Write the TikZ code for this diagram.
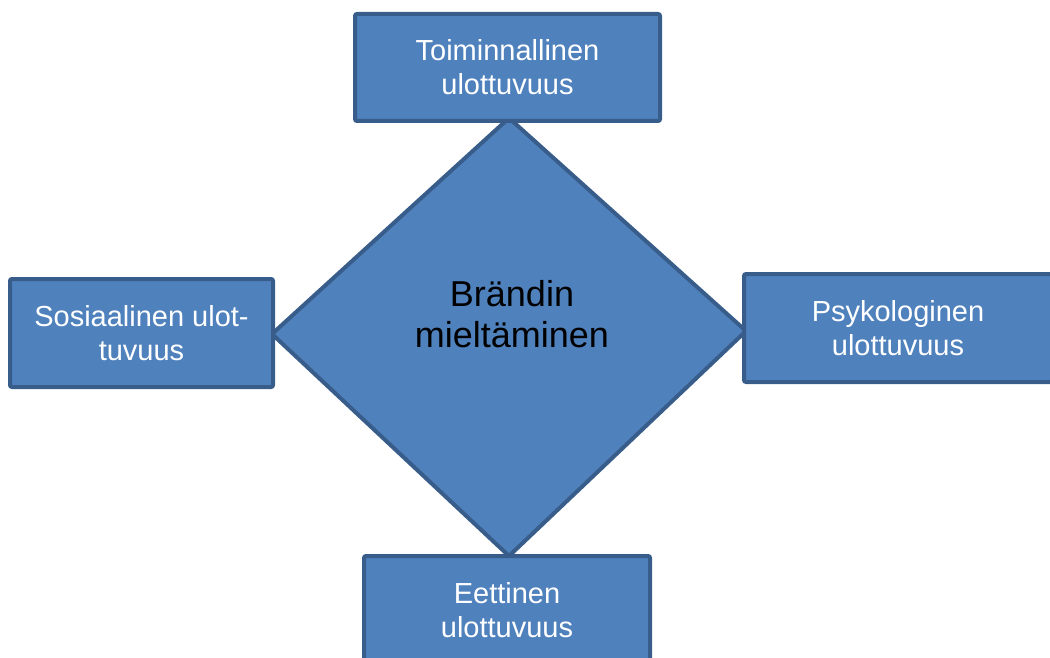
\documentclass[tikz,border=0pt]{standalone}
\usepackage{fontspec}
\setmainfont{Liberation Sans}
\definecolor{boxfill}{HTML}{4F81BD}
\definecolor{boxline}{HTML}{385D8A}
\begin{document}
\begin{tikzpicture}[x=1pt,y=-1pt,
  dimbox/.style={draw=boxline, fill=boxfill, line width=4pt, rounded corners=2pt,
    inner sep=0pt, align=center, text=white, font=\fontsize{29}{34}\selectfont},
  centertext/.style={inner sep=0pt, align=center, text=black, font=\fontsize{36}{41}\selectfont}]
\useasboundingbox (0,0) rectangle (1050,658);
% diamond
\coordinate (dt) at (509,118);
\coordinate (dr) at (746,331);
\coordinate (db) at (509,556);
\coordinate (dl) at (272,334);
\draw[draw=boxline, fill=boxfill, line width=4pt, line join=miter] (dt) -- (dr) -- (db) -- (dl) -- cycle;
\node[centertext] (center) at (512,314.5) {Brändin\\mieltäminen};
% boxes
\node[dimbox, minimum width=305pt, minimum height=107pt] (top) at (507.5,67.5) {Toiminnallinen\\ulottuvuus};
\node[dimbox, minimum width=263pt, minimum height=108pt] (left) at (141.5,333) {Sosiaalinen ulot-\\tuvuus};
\node[dimbox, minimum width=308pt, minimum height=108pt] (right) at (898,328) {Psykologinen\\ulottuvuus};
\node[dimbox, minimum width=286pt, minimum height=108pt] (bottom) at (507,610) {Eettinen\\ulottuvuus};
\end{tikzpicture}
\end{document}
